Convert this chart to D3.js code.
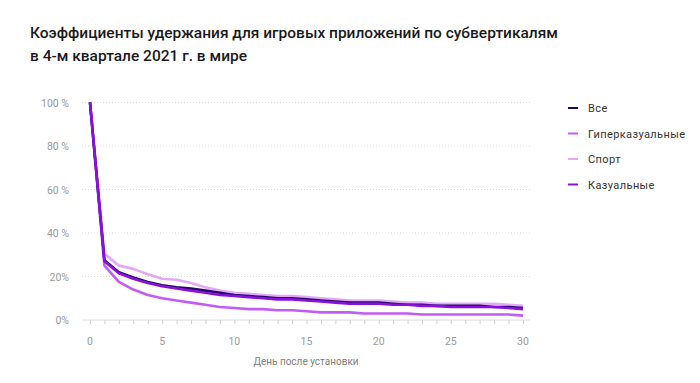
<!DOCTYPE html>
<html><head><meta charset="utf-8">
<script src="https://cdn.jsdelivr.net/npm/d3@7"></script>
<style>body{margin:0;background:#fff;} text{font-family:Roboto, "Noto Sans", sans-serif;}</style>
</head><body><svg id="c" width="700" height="383"></svg>
<script>
const days = d3.range(0, 31);
const seriesNames = ["Все", "Гиперказуальные", "Спорт", "Казуальные"];
const seriesColors = ["#22085e", "#c35cf5", "#e2a9f9", "#8a11dc"];
const vse = [100,27.5,22,19.5,17.5,16,15,14.5,13.5,12.5,11.5,11,10.5,10,10,9.5,9,8.5,8,8,8,7.5,7,7,6.5,6.5,6.5,6.5,6,6,5.5];
const hyper = [100,25,17.5,14,11.5,10,9,8,7,6,5.5,5,5,4.5,4.5,4,3.5,3.5,3.5,3,3,3,3,2.5,2.5,2.5,2.5,2.5,2.5,2.5,2];
const sport = [100,30.5,25,23.5,21,19,18.5,17,15,13.5,12.5,12,11.5,11,11,10.5,10,9.5,9,9,9,8.5,8,8,7.5,7.5,7.5,7.5,7.5,7,6.5];
const casual = [100,27,21.5,19,17,15.5,14.5,13.5,12.5,11.5,11,10.5,10,9.5,9.5,9,8.5,8,7.5,7.5,7.5,7,7,6.5,6.5,6,6,6,6,5.5,5];
const yTicks = [0,20,40,60,80,100];
const yTickLabels = ["0%","20%","40 %","60 %","80 %","100 %"];
const xTicks = [0,5,10,15,20,25,30];
const title = ["Коэффициенты удержания для игровых приложений по субвертикалям", "в 4-м квартале 2021 г. в мире"];
const xTitle = "День после установки";

const svg = d3.select("#c");
const x = d3.scaleLinear().domain([0,30]).range([90,523]);
const y = d3.scaleLinear().domain([0,100]).range([320,102.5]);

svg.selectAll("text.title").data(title).join("text")
  .attr("x",30).attr("y",(d,i)=>38+i*23)
  .attr("font-size",15.5).attr("font-weight",500).attr("fill","#1a1a1a").text(d=>d);

// gridlines
svg.append("g").selectAll("line").data(yTicks.filter(d=>d>0)).join("line")
  .attr("x1",82).attr("x2",530).attr("y1",d=>y(d)).attr("y2",d=>y(d))
  .attr("stroke","#dcdcdc").attr("stroke-dasharray","1,2");
svg.append("line").attr("x1",82).attr("x2",530).attr("y1",y(0)).attr("y2",y(0))
  .attr("stroke","#dcdcdc").attr("stroke-width",1);
// y labels
svg.append("g").selectAll("text").data(yTicks).join("text")
  .attr("x",69).attr("y",d=>y(d)+4).attr("text-anchor","end")
  .attr("font-size",10.5).attr("fill","#9a9a9a").text((d,i)=>yTickLabels[i]);
// x axis ticks
const xa = svg.append("g").attr("transform",`translate(0,${y(0)})`)
  .call(d3.axisBottom(x).tickValues(days).tickSize(4).tickFormat(""));
xa.select(".domain").remove();
xa.selectAll("line").attr("stroke","#cfcfcf");
svg.append("g").selectAll("text").data(xTicks).join("text")
  .attr("x",d=>x(d)).attr("y",345).attr("text-anchor","middle")
  .attr("font-size",10.5).attr("fill","#9a9a9a").text(d=>d);
svg.append("text").attr("x",306).attr("y",365).attr("text-anchor","middle")
  .attr("font-size",10).attr("fill","#808080").text(xTitle);

const line = d3.line().x((d,i)=>x(days[i])).y(d=>y(d));
const data = {"Все":vse,"Гиперказуальные":hyper,"Спорт":sport,"Казуальные":casual};
const order = ["Спорт","Гиперказуальные","Все","Казуальные"];
order.forEach(n=>{
  svg.append("path").datum(data[n]).attr("d",line).attr("fill","none")
    .attr("stroke",seriesColors[seriesNames.indexOf(n)]).attr("stroke-width",2.6)
    .attr("stroke-linejoin","round");
});

const lg = svg.append("g").selectAll("g").data(seriesNames).join("g")
  .attr("transform",(d,i)=>`translate(568,${108+i*25.5})`);
lg.append("line").attr("x1",0).attr("x2",10).attr("stroke",(d,i)=>seriesColors[i]).attr("stroke-width",2);
lg.append("text").attr("x",20).attr("y",4).attr("font-size",11).attr("letter-spacing",0.4).attr("fill","#333").text(d=>d);
</script></body></html>
